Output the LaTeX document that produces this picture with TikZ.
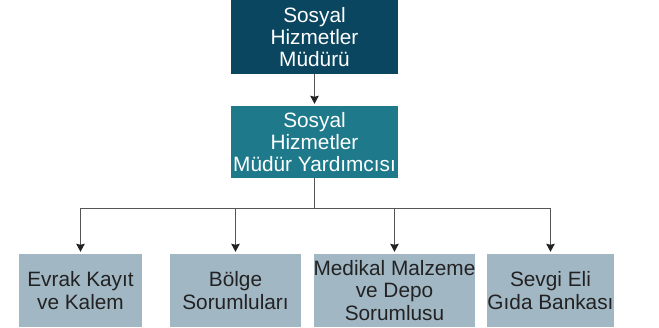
\documentclass[tikz,border=0pt]{standalone}
\usepackage{fontspec}
\setmainfont{Liberation Sans}
\usetikzlibrary{arrows.meta}
\definecolor{topc}{HTML}{0A4660}
\definecolor{midc}{HTML}{1E7A8A}
\definecolor{lowc}{HTML}{A2B7C4}
\definecolor{linec}{HTML}{555555}
\definecolor{tipc}{HTML}{222222}
\definecolor{txtc}{HTML}{222222}
\begin{document}
\begin{tikzpicture}[x=1pt,y=-1pt,
  boxbase/.style={rectangle,inner sep=0pt,align=center,
    font=\fontsize{20.8}{22.2}\selectfont},
  topbox/.style={boxbase,fill=topc,text=white,minimum width=167pt,minimum height=74pt},
  midbox/.style={boxbase,fill=midc,text=white,minimum width=167pt,minimum height=72pt},
  lowbox/.style={boxbase,fill=lowc,text=txtc,minimum height=73pt},
  conn/.style={draw=linec,line width=1pt},
  arr/.style={conn,-{Stealth[length=8pt,width=8.5pt,inset=1pt,color=tipc]},shorten >=2pt}]
\useasboundingbox (0,0) rectangle (659,327);
\node[topbox] (dir) at (314.5,37) {Sosyal\\Hizmetler\\Müdürü};
\node[midbox] (dep) at (314.5,142) {Sosyal\\Hizmetler\\Müdür Yardımcısı};
\node[lowbox,minimum width=123pt] (b1) at (80.5,290.5) {Evrak Kayıt\\ve Kalem};
\node[lowbox,minimum width=131pt] (b2) at (235.5,290.5) {Bölge\\Sorumluları};
\node[lowbox,minimum width=157pt] (b3) at (394.5,290.5) {Medikal Malzeme\\ve Depo\\Sorumlusu};
\node[lowbox,minimum width=125pt] (b4) at (550.5,290.5) {Sevgi Eli\\Gıda Bankası};
\coordinate (bus) at (314.5,208);
\draw[arr] (dir.south) -- (dep.north);
\draw[conn] (dep.south) -- (bus);
\draw[conn] (bus -| b1.north) -- (bus -| b4.north);
\draw[arr] (bus -| b1.north) -- (b1.north);
\draw[arr] (bus -| b2.north) -- (b2.north);
\draw[arr] (bus -| b3.north) -- (b3.north);
\draw[arr] (bus -| b4.north) -- (b4.north);
\end{tikzpicture}
\end{document}
